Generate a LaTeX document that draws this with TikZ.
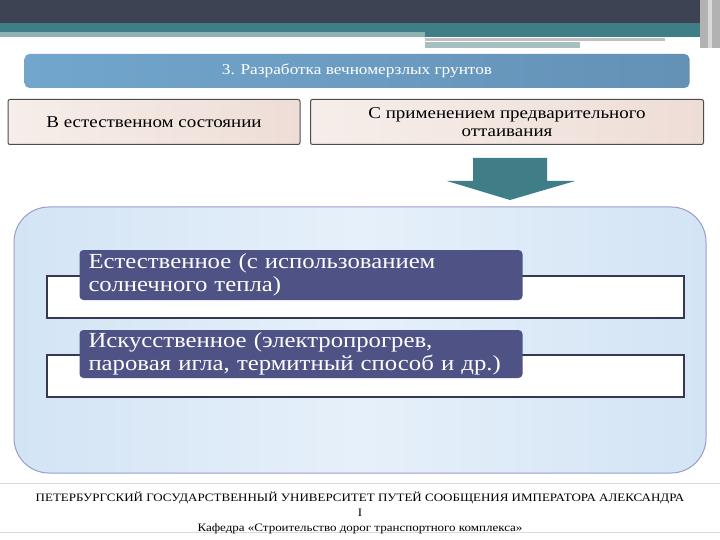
\documentclass[tikz,border=0pt]{standalone}
\usepackage{fontspec}
\setmainfont{Liberation Serif}
\newfontfamily\tnr[FakeStretch=1.15]{Liberation Serif}
\begin{document}
\begin{tikzpicture}[x=1pt,y=-1pt,
  top/.style={rounded corners=5pt,left color=titleA,right color=titleB,draw=none},
  sub/.style={draw=black!70,line width=1pt,rounded corners=2pt,left color=subA,right color=subB,align=center,font=\tnr\fontsize{16.5}{18}\selectfont},
  band/.style={draw=bandcol,line width=2pt,fill=white},
  item/.style={fill=barcol,rounded corners=4pt,text=white,align=left,font=\tnr\fontsize{21.5}{23}\selectfont,inner sep=0pt},
  foot/.style={font=\tnr\fontsize{11.3}{12}\selectfont}]
\definecolor{barcol}{HTML}{4F5284}
\definecolor{bandcol}{HTML}{353A52}
\definecolor{teal1}{HTML}{3F7E86}
\definecolor{ink}{HTML}{3E4354}
\definecolor{titleA}{HTML}{72A6CC}
\definecolor{titleB}{HTML}{6491B6}
\definecolor{subA}{HTML}{F6EEEA}
\definecolor{subB}{HTML}{EEDDD6}
\definecolor{panA}{HTML}{D3E4F5}
\definecolor{panB}{HTML}{E6F0FA}
\useasboundingbox (0,0) rectangle (720,540);
\fill[white] (0,0) rectangle (720,540);
% header bars
\fill[ink] (0,0) rectangle (705,23);
\fill[teal1] (0,23) rectangle (720,33);
\fill[gray!50!teal!60!white] (0,32) rectangle (425,37);
\fill[teal1] (425,33) rectangle (705,37);
\fill[gray!50] (425,38) rectangle (665,41);
\fill[gray!60!teal!50] (425,42) rectangle (580,48);
\fill[gray!60] (700,0) rectangle (720,48);
\fill[gray!30] (708,0) rectangle (712,48);
% title
\node[top,minimum width=665pt,minimum height=34pt,text=white,font=\tnr\fontsize{15}{16}\selectfont] (title) at (357,71) {3. Разработка вечномерзлых грунтов};
\node[sub,minimum width=292pt,minimum height=45pt] (b1) at (154,122) {В естественном состоянии};
\node[sub,minimum width=393pt,minimum height=45pt] (b2) at (507,122) {С применением предварительного\\оттаивания};
% arrow
\fill[teal1] (473,158) -- (547,158) -- (547,181) -- (575,181) -- (510,200) -- (447,181) -- (473,181) -- cycle;
% big panel
\node[draw=blue!30!gray!60,line width=1pt,rounded corners=35pt,left color=panA,right color=panA,middle color=panB,minimum width=692pt,minimum height=266pt] (panel) at (360,340) {};
\draw[band] (47,276) rectangle (684,318);
\draw[band] (47,355) rectangle (684,397);
\node[item,minimum width=443pt,minimum height=50pt,text width=425pt] (i1) at (301,275) {Естественное (с использованием\\солнечного тепла)};
\node[item,minimum width=443pt,minimum height=48pt,text width=425pt] (i2) at (301,354) {Искусственное (электропрогрев,\\паровая игла, термитный способ и др.)};
% footer
\draw[gray!30] (0,483) -- (720,483);
\draw[gray!30] (0,532) -- (720,532);
\node[foot] (f1) at (360,498) {ПЕТЕРБУРГСКИЙ ГОСУДАРСТВЕННЫЙ УНИВЕРСИТЕТ ПУТЕЙ СООБЩЕНИЯ ИМПЕРАТОРА АЛЕКСАНДРА};
\node[foot] (f2) at (360,513) {I};
\node[foot] (f3) at (360,529) {Кафедра «Строительство дорог транспортного комплекса»};
\end{tikzpicture}
\end{document}
